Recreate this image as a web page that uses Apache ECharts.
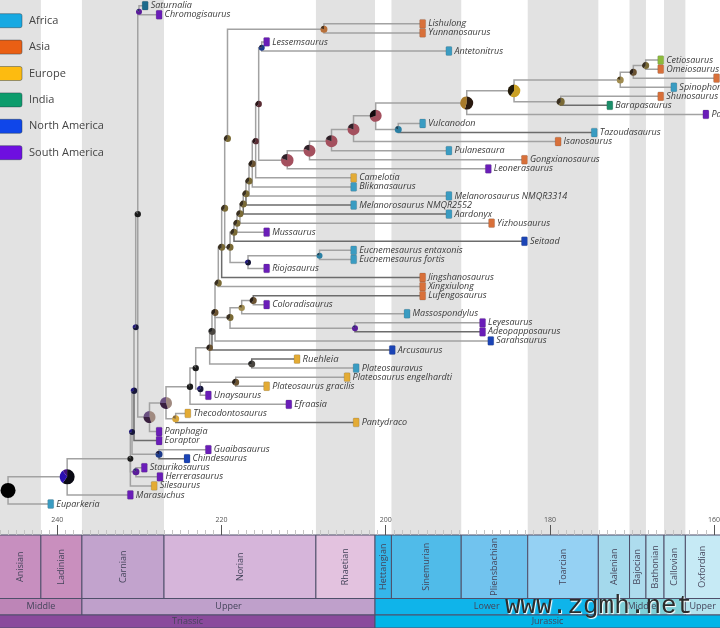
<!DOCTYPE html>
<html>
<head>
<meta charset="utf-8">
<script src="https://cdn.jsdelivr.net/npm/echarts@6/dist/echarts.min.js"></script>
<style>
html, body { margin: 0; padding: 0; background: #fff; }
#chart { width: 720px; height: 628px; filter: blur(0.5px); }
</style>
</head>
<body>
<div id="chart"></div>
<script>
// tips, top to bottom, row = index
const tipNames = ['Saturnalia','Chromogisaurus','Lishulong','Yunnanosaurus','Lessemsaurus','Antetonitrus',
  'Cetiosaurus','Omeiosaurus','Mamenchisaurus','Spinophorosaurus','Shunosaurus','Barapasaurus','Patagosaurus',
  'Vulcanodon','Tazoudasaurus','Isanosaurus','Pulanesaura','Gongxianosaurus','Leonerasaurus','Camelotia',
  'Blikanasaurus','Melanorosaurus NMQR3314','Melanorosaurus NMQR2552','Aardonyx','Yizhousaurus','Mussaurus','Seitaad',
  'Eucnemesaurus entaxonis','Eucnemesaurus fortis','Riojasaurus','Jingshanosaurus','Xingxiulong','Lufengosaurus',
  'Coloradisaurus','Massospondylus','Leyesaurus','Adeopapposaurus','Sarahsaurus','Arcusaurus','Ruehleia',
  'Plateosauravus','Plateosaurus engelhardti','Plateosaurus gracilis','Unaysaurus','Efraasia','Thecodontosaurus',
  'Pantydraco','Panphagia','Eoraptor','Guaibasaurus','Chindesaurus','Staurikosaurus','Herrerasaurus','Silesaurus',
  'Marasuchus','Euparkeria'];
const tipParents = ['N7','N7','Nlis','Nlis','Nles','Nles',
  'B9','B9','B8','B7','Nshu','Nshu','B5',
  'Nvul','Nvul','B3','B2','B1','B0','S8',
  'S7','S6','S5','S4','S3','S2','S1',
  'Neuc','Neuc','Nrio','N16','N15','Nm3',
  'Nm3','Nm2','Nley','Nley','N14','N13','Nrue',
  'Nrue','Npla','Npla','Nuna','N10','Nthe',
  'Nthe','N8','N4','Nguai','Nguai','Nherr','Nherr','N2',
  'N1','root'];
const tipAges = [229.3,227.6,195.5,195.5,214.5,192.3,
  166.5,166.5,159.7,164.9,166.5,172.7,161.0,
  195.5,174.6,179.0,192.3,183.1,187.5,203.9,
  203.9,192.3,203.9,192.3,187.1,214.5,183.1,
  203.9,203.9,214.5,195.5,195.5,195.5,
  214.5,197.4,188.2,188.2,187.2,199.2,210.8,
  203.6,204.7,214.5,221.6,211.8,224.1,
  203.6,227.6,227.6,221.6,224.2,229.4,227.5,228.2,
  231.1,240.8];
const tipRegions = ['Saurian','South America','Asia','Asia','South America','Africa',
  'Lime','Asia','Asia','Africa','Asia','India','South America',
  'Africa','Africa','Asia','Africa','Asia','South America','Europe',
  'Africa','Africa','Africa','Africa','Asia','South America','North America',
  'Africa','Africa','South America','Asia','Asia','Asia',
  'South America','Africa','South America','South America','North America','North America','Europe',
  'Africa','Europe','Europe','South America','South America','Europe',
  'Europe','South America','South America','South America','North America','South America','South America','Europe',
  'South America','Africa'];

// internal nodes
const nodeIds = ['root','N1','N2','N3','Nherr','N4','Nguai','N5','N6','N7','N8','N9','Nthe','N10','N11','Nuna','Npla',
  'N12','Nrue','N13','N14','Nmas','Nm2','Nm3','Nley','N15','N16','N17','N18','Nlis','S0','Nrio','Neuc',
  'S1','S2','S3','S4','S5','S6','S7','S8','S9','Nles','B0','B1','B2','B3','B4','Nvul','B5','B6','Nshu','B7','B8','B9'];
const nodeParents = [null,'root','N1','N2','N2','N3','N3','N4','N5','N6','N6','N8','N9','N9','N10','N11','Nuna',
  'N11','N12','N12','N13','N14','Nmas','Nm2','Nmas','N14','N15','N16','N17','N18','N17','S0','Nrio',
  'S0','S1','S2','S3','S4','S5','S6','S7','S8','S9','S9','B0','B1','B2','B3','B4','B4','B5','B6','B6','B7','B8'];
const nodeAges = [246.0,238.8,231.1,230.9,230.42,230.66,227.61,230.45,230.2,230.05,228.77,226.76,225.58,223.84,223.14,222.58,218.27,
  221.44,216.32,221.16,220.79,218.96,217.54,216.13,203.74,220.39,219.98,219.61,219.27,207.52,218.96,216.77,208.06,
  218.48,218.11,217.75,217.35,217.02,216.65,216.25,215.84,215.47,215.1,211.99,209.28,206.6,203.92,201.22,198.47,190.13,184.37,178.68,171.43,169.84,168.33];
const nodeRows = [53.5,52.0,50.0,47.05,51.45,42.5,49.5,35.5,23.0,0.66,45.4,43.85,45.6,42.05,40.0,42.3,41.55,
  37.75,39.55,35.95,33.85,34.4,33.35,32.55,35.6,30.6,26.65,22.35,14.65,2.6,26.65,28.35,27.6,
  25.0,24.0,22.95,21.9,20.75,19.35,17.45,14.95,10.85,4.65,17.05,16.0,14.95,13.65,12.15,13.65,10.75,9.4,10.6,8.2,7.35,6.6];

// time scale: name, older edge, younger edge
const stageNames = ['Anisian','Ladinian','Carnian','Norian','Rhaetian','Hettangian','Sinemurian','Pliensbachian','Toarcian','Aalenian','Bajocian','Bathonian','Callovian','Oxfordian'];
const stageEdges = [247.2,242,237,227,208.5,201.3,199.3,190.8,182.7,174.1,170.3,168.3,166.1,163.5,157.3];
const seriesNames = ['Middle','Upper','Lower','Middle','Upper'];
const seriesEdges = [247.2,237,201.3,174.1,163.5,157.3];
const systemNames = ['Triassic','Jurassic'];
const systemEdges = [251.9,201.3,145];
const legendNames = ['Africa','Asia','Europe','India','North America','South America'];

const stageColors = ['#c78fbf','#c98fbe','#c2a3cd','#d6b5da','#e3c2df','#35b6ea','#50bbe9','#71c3ee','#95d1f3','#a4d9ec','#aedcee','#b6e1ef','#b9e4f0','#c6eaf5'];
const seriesColors = ['#bd85b7','#bfa0cb','#0fb4ea','#7fd0d8','#b3e3ee'];
const systemColors = ['#8a4a9c','#00b5e8'];
const legendColors = { 'Africa':'#17a9e2','Asia':'#ea5f14','Europe':'#fdbb10','India':'#0c9c6c','North America':'#0f46ea','South America':'#6e0fe0' };
const tipColors = { 'Africa':'#3a9cc2','Asia':'#d8703a','Europe':'#e3ab35','India':'#1c8e6a','North America':'#1b44b6','South America':'#6a1db8','Lime':'#8dbb3c','Saurian':'#1c6a8c' };

// node looks: radius and pie slices
const pies = {
  black: [['#000', 1]],
  blackblue: [['#0a0a14', .6], ['#2a10b0', .3], ['#401080', .1]],
  navy: [['#161638', .7], ['#221a7a', .3]],
  dark: [['#1c1c1c', .9], ['#3a3a3a', .1]],
  purple: [['#5a1c9a', .85], ['#2a2a6a', .15]],
  blue: [['#1c3a8a', .8], ['#1c1c44', .2]],
  graypurple: [['#a08a80', .45], ['#3a2040', .3], ['#6a5080', .25]],
  yellow: [['#d8a63a', .8], ['#8a6a30', .2]],
  olive: [['#7a6a35', .6], ['#3a3020', .4]],
  brown: [['#6a5230', .6], ['#2a2018', .4]],
  maroon: [['#5a2c34', .6], ['#2a1418', .4]],
  rose: [['#a4505e', .8], ['#302028', .2]],
  rosedark: [['#a4505e', .7], ['#14080c', .3]],
  sauro: [['#2a1a10', .55], ['#a87a2a', .45]],
  gold: [['#caa024', .6], ['#221a08', .4]],
  tan: [['#a08c50', .8], ['#50401c', .2]],
  teal: [['#2a80a4', .8], ['#184860', .2]],
  orange: [['#b8703a', .8], ['#4a3018', .2]],
  gray: [['#4a4640', .7], ['#222', .3]]
};
const nodeLook = {
  root:['black',7.5], N1:['blackblue',7.5], N2:['dark',3], N3:['navy',3], Nherr:['purple',3.5], N4:['navy',3.2], Nguai:['blue',3.5],
  N5:['navy',3], N6:['dark',3.2], N7:['purple',3], N8:['graypurple',6], N9:['graypurple',6], Nthe:['yellow',3.5], N10:['dark',3.2], N11:['dark',3.2],
  Nuna:['navy',3.2], Npla:['brown',3.5], N12:['brown',3.2], Nrue:['gray',3.5], N13:['gray',3.5], N14:['brown',3.5], Nmas:['olive',3.5],
  Nm2:['tan',3.2], Nm3:['brown',3.5], Nley:['purple',3], N15:['olive',3.5], N16:['olive',3.5], N17:['olive',3.5], N18:['olive',3.5],
  Nlis:['orange',3.5], S0:['olive',3.5], Nrio:['navy',3], Neuc:['teal',3], S1:['olive',3.5], S2:['olive',3.5], S3:['olive',3.5], S4:['olive',3.5],
  S5:['olive',3.5], S6:['olive',3.5], S7:['brown',3.5], S8:['maroon',3.2], S9:['maroon',3.2], Nles:['blue',3],
  B0:['rose',6.3], B1:['rose',6], B2:['rose',6], B3:['rose',6], B4:['rosedark',6], Nvul:['teal',3.5], B5:['sauro',6.5], B6:['gold',6.3],
  Nshu:['olive',4], B7:['tan',3.5], B8:['brown',3.5], B9:['olive',3.5]
};
const darkTips = ['Arcusaurus','Adeopapposaurus','Tazoudasaurus','Seitaad','Ruehleia','Lufengosaurus','Jingshanosaurus','Aardonyx','Melanorosaurus NMQR2552','Pantydraco','Eoraptor','Chindesaurus','Barapasaurus'];

const nodeIndex = {};
nodeIds.forEach((id, i) => { nodeIndex[id] = i; });

// branch rows: parent age, parent row, child age, child row, dark flag
const branchRows = [];
nodeIds.forEach((id, i) => {
  if (!nodeParents[i]) return;
  const p = nodeIndex[nodeParents[i]];
  branchRows.push([nodeAges[p], nodeRows[p], nodeAges[i], nodeRows[i], 0]);
});
tipNames.forEach((name, i) => {
  const p = nodeIndex[tipParents[i]];
  branchRows.push([nodeAges[p], nodeRows[p], tipAges[i], i, darkTips.includes(name) ? 1 : 0]);
});

const FONT = '"Open Sans", sans-serif';

function renderBranch(params, api) {
  const a = api.coord([api.value(0), api.value(1)]);
  const elbow = api.coord([api.value(0), api.value(3)]);
  const b = api.coord([api.value(2), api.value(3)]);
  return {
    type: 'polyline',
    shape: { points: [a, elbow, b] },
    style: { fill: null, stroke: api.value(4) ? '#6c6c6c' : '#a2a2a2', lineWidth: 1.5 }
  };
}

function renderTip(params, api) {
  const c = api.coord([api.value(0), params.dataIndex]);
  const name = tipNames[params.dataIndex];
  const region = tipRegions[params.dataIndex];
  return {
    type: 'group',
    children: [{
      type: 'rect',
      shape: { x: c[0] - 3, y: c[1] - 4.4, width: 6, height: 8.8, r: 1 },
      style: { fill: tipColors[region], stroke: 'rgba(60,60,60,0.35)', lineWidth: 0.5 }
    }, {
      type: 'text',
      style: {
        x: c[0] + 5.5, y: c[1], text: name, fill: '#3a3a3a',
        font: 'italic ' + (name === 'Ruehleia' ? 9.5 : 9) + 'px ' + FONT,
        align: 'left', verticalAlign: 'middle'
      }
    }]
  };
}

function renderNode(params, api) {
  const c = api.coord([api.value(0), api.value(1)]);
  const look = nodeLook[nodeIds[params.dataIndex]];
  let angle = -Math.PI / 2;
  const children = pies[look[0]].map(s => {
    const end = angle + s[1] * Math.PI * 2;
    const el = {
      type: 'sector',
      shape: { cx: c[0], cy: c[1], r: look[1], r0: 0, startAngle: angle, endAngle: end },
      style: { fill: s[0] }
    };
    angle = end;
    return el;
  });
  return { type: 'group', children: children };
}

function renderBand(params, api) {
  const a = api.coord([api.value(0), -10]);
  const b = api.coord([api.value(1), 100]);
  return { type: 'rect', shape: { x: a[0], y: 0, width: b[0] - a[0], height: 535 }, style: { fill: '#e2e2e2' } };
}

// one strip of the time scale, y values are the scale's own rows
function scaleRenderer(names, colors, top, bottom, rotate) {
  return function (params, api) {
    const i = params.dataIndex;
    const a = api.coord([api.value(0), top]);
    const b = api.coord([api.value(1), bottom]);
    const left = Math.max(a[0], 0), right = Math.min(b[0], 720);
    return {
      type: 'group',
      children: [{
        type: 'rect',
        shape: { x: a[0], y: a[1], width: b[0] - a[0], height: b[1] - a[1] },
        style: { fill: colors[i], stroke: '#4f4f6a', lineWidth: 1 }
      }, {
        type: 'text',
        rotation: rotate ? Math.PI / 2 : 0,
        x: (left + right) / 2, y: (a[1] + b[1]) / 2,
        style: {
          x: 0, y: 0, text: names[i], fill: '#44445a', font: '9px ' + FONT,
          align: 'center', verticalAlign: 'middle'
        }
      }]
    };
  };
}

function edgeRows(edges) {
  return edges.slice(0, -1).map((e, i) => [e, edges[i + 1]]);
}

const chart = echarts.init(document.getElementById('chart'));
chart.setOption({
  animation: false,
  backgroundColor: '#fff',
  grid: [
    { left: -106.9, width: 985.2, top: 0, height: 535, outerBoundsMode: 'none' },
    { left: -106.9, width: 985.2, top: 535, height: 93, outerBoundsMode: 'none' }
  ],
  xAxis: [{
    gridIndex: 0, type: 'value', inverse: true, min: 140, max: 260, interval: 20, position: 'bottom', z: 6,
    axisLine: { show: false, onZero: false }, splitLine: { show: false },
    axisTick: { inside: true, length: 10, lineStyle: { color: '#555', width: 1 } },
    minorTick: { show: true, splitNumber: 20, length: 5, lineStyle: { color: '#c4c4c4', width: 1 } },
    axisLabel: { inside: true, margin: 12, fontSize: 7, color: '#555', fontFamily: FONT, showMinLabel: false, showMaxLabel: false }
  }, {
    gridIndex: 1, type: 'value', inverse: true, min: 140, max: 260, interval: 20,
    axisLine: { show: false }, axisTick: { show: false }, axisLabel: { show: false }, splitLine: { show: false }
  }],
  yAxis: [{
    gridIndex: 0, type: 'value', inverse: true, min: -0.63, max: 58.42, show: false
  }, {
    gridIndex: 1, type: 'value', inverse: true, min: 0, max: 93, show: false
  }],
  graphic: {
    elements: legendNames.map((name, i) => ({
      type: 'group', x: 0, y: 20.7 + i * 26.4, silent: true, z: 10,
      children: [
        { type: 'rect', z: 10, shape: { x: -2, y: -7, width: 24, height: 14, r: 2 },
          style: { fill: legendColors[name], stroke: 'rgba(40,60,70,0.45)', lineWidth: 1 } },
        { type: 'text', z: 10, style: { x: 29, y: 0, text: name, fill: '#444', font: '11px ' + FONT, verticalAlign: 'middle' } }
      ]
    })).concat([{
      type: 'text', x: 505, y: 606, z: 100, silent: true,
      style: {
        text: 'www.zgmh.net', fill: '#2c2c2c', font: '26px "Liberation Mono", monospace', verticalAlign: 'middle',
        textShadowColor: '#fff', textShadowOffsetX: 1, textShadowOffsetY: 1, textShadowBlur: 1
      }
    }])
  },
  series: [
    { type: 'custom', xAxisIndex: 0, yAxisIndex: 0, z: 1, silent: true, clip: false,
      data: edgeRows(stageEdges).filter((r, i) => i % 2 === 0), renderItem: renderBand },
    { type: 'custom', xAxisIndex: 0, yAxisIndex: 0, z: 2, silent: true, clip: false, data: branchRows, renderItem: renderBranch },
    { type: 'custom', xAxisIndex: 0, yAxisIndex: 0, z: 3, silent: true, clip: false, data: tipAges.map(a => [a]), renderItem: renderTip },
    { type: 'custom', xAxisIndex: 0, yAxisIndex: 0, z: 4, silent: true, clip: false,
      data: nodeAges.map((a, i) => [a, nodeRows[i]]), renderItem: renderNode },
    { type: 'custom', xAxisIndex: 1, yAxisIndex: 1, z: 2, silent: true, clip: false,
      data: edgeRows(stageEdges), renderItem: scaleRenderer(stageNames, stageColors, 0, 63.5, true) },
    { type: 'custom', xAxisIndex: 1, yAxisIndex: 1, z: 2, silent: true, clip: false,
      data: edgeRows(seriesEdges), renderItem: scaleRenderer(seriesNames, seriesColors, 63.5, 80, false) },
    { type: 'custom', xAxisIndex: 1, yAxisIndex: 1, z: 2, silent: true, clip: false,
      data: edgeRows(systemEdges), renderItem: scaleRenderer(systemNames, systemColors, 80, 93, false) }
  ]
});
</script>
</body>
</html>
